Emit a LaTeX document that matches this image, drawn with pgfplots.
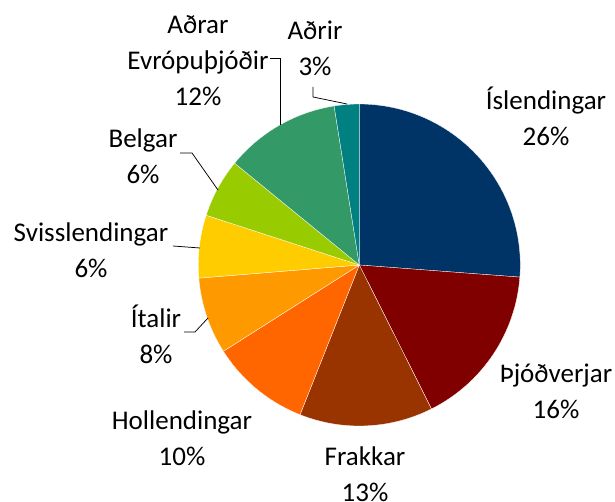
\documentclass[border=0pt]{standalone}
\usepackage{pgfplots}
\usepackage{pgfplotstable}
\pgfplotsset{compat=1.18}
\usepackage{fontspec}
\setmainfont{Carlito}
\definecolor{c0}{HTML}{003366}
\definecolor{c1}{HTML}{800000}
\definecolor{c2}{HTML}{993300}
\definecolor{c3}{HTML}{FF6600}
\definecolor{c4}{HTML}{FF9900}
\definecolor{c5}{HTML}{FFCC00}
\definecolor{c6}{HTML}{99CC00}
\definecolor{c7}{HTML}{339966}
\definecolor{c8}{HTML}{008080}
\pgfplotstableread{
value
26.2
16.4
13.4
10.0
7.7
6.3
5.9
11.6
2.5
}\piedata
\pgfplotstablecreatecol[create col/expr accum={\pgfmathaccuma + \thisrow{value}}{0}]{cum}{\piedata}
\begin{document}
\begin{tikzpicture}
\useasboundingbox (0,0) rectangle (615pt,501pt);
\begin{axis}[at={(0,0)}, anchor=south west, scale only axis, width=615pt, height=501pt,
  xmin=0, xmax=615, ymin=0, ymax=501, hide axis, clip=false]
\pgfplotsinvokeforeach{0,...,8}{
  \pgfplotstablegetelem{#1}{value}\of\piedata \let\pv\pgfplotsretval
  \pgfplotstablegetelem{#1}{cum}\of\piedata \let\pc\pgfplotsretval
  \pgfmathsetmacro\sa{90-3.6*(\pc-\pv)}
  \pgfmathsetmacro\ea{90-3.6*\pc}
  \edef\temp{\noexpand\fill[c#1, draw=white, line width=0.3pt] (axis cs:359.3,236) -- ++(\sa:161pt) arc[start angle=\sa, end angle=\ea, radius=161pt] -- cycle;}
  \temp
}
\draw[black, line width=0.75pt] (axis cs:270,443) -- (axis cs:280,443) -- (axis cs:280,376);
\draw[black, line width=0.75pt] (axis cs:313,414) -- (axis cs:313,404) -- (axis cs:347,397);
\draw[black, line width=0.75pt] (axis cs:180,348) -- (axis cs:192,348) -- (axis cs:218,311);
\draw[black, line width=0.75pt] (axis cs:173,255) -- (axis cs:200,253);
\draw[black, line width=0.75pt] (axis cs:184,169) -- (axis cs:195,169) -- (axis cs:208,183);
\tikzset{lbl/.style={align=center, inner sep=0pt, font=\fontsize{27}{36}\selectfont}}
\node[lbl] at (axis cs:546,385) {Íslendingar\\26\%};
\node[lbl] at (axis cs:556,110) {Þjóðverjar\\16\%};
\node[lbl] at (axis cs:365,27) {Frakkar\\13\%};
\node[lbl] at (axis cs:182,63) {Hollendingar\\10\%};
\node[lbl] at (axis cs:156,167) {Ítalir\\8\%};
\node[lbl] at (axis cs:91,251) {Svisslendingar\\6\%};
\node[lbl] at (axis cs:143,345) {Belgar\\6\%};
\node[lbl] at (axis cs:198,440) {Aðrar\\Evrópuþjóðir\\12\%};
\node[lbl] at (axis cs:315,453) {Aðrir\\3\%};
\end{axis}
\end{tikzpicture}
\end{document}
